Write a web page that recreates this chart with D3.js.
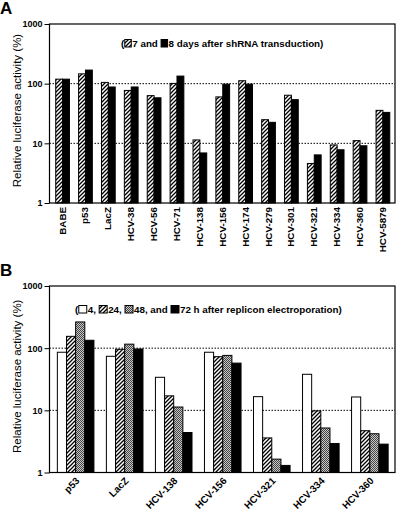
<!DOCTYPE html>
<html><head><meta charset="utf-8">
<script src="https://cdn.jsdelivr.net/npm/d3@7"></script>
<style>body{margin:0;background:#fff} text{font-family:'Liberation Sans',Arial,Helvetica,sans-serif}</style>
</head><body><svg id="c" width="400" height="516"></svg>
<script>
// ---- Data ----
const categoriesA = ["BABE","p53","LacZ","HCV-38","HCV-56","HCV-71","HCV-138","HCV-156","HCV-174","HCV-279","HCV-301","HCV-321","HCV-334","HCV-360","HCV-5879"];
const day7 = [119,146,105,77,63,101,11.4,60,112,24.9,64,4.6,9.4,11.1,35.7];
const day8 = [119,169,88,88,58,134,6.9,98,98,22.5,54,6.4,7.8,9.1,33];
const categoriesB = ["p53","LacZ","HCV-138","HCV-156","HCV-321","HCV-334","HCV-360"];
const h4  = [86,74,34,86,16.6,38,16.4];
const h24 = [155,96,17.1,73,3.6,9.8,4.7];
const h48 = [264,116,11.3,76.5,1.64,5.2,4.2];
const h72 = [134,97,4.4,57.5,1.3,2.93,2.86];
const yTicks = [1,10,100,1000];
const gridValues = [10,100];
const yTitle = "Relative luciferase activity (%)";
const legendA = [{t:"("},{box:"hatch"},{t:"7 and "},{box:"black"},{t:"8 days after shRNA transduction)"}];
const legendB = [{t:"("},{box:"white"},{t:"4, "},{box:"hatch"},{t:"24, "},{box:"grey"},{t:"48, and "},{box:"black"},{t:"72 h after replicon electroporation)"}];

const svg = d3.select("#c");
const defs = svg.append("defs");
// diagonal hatch
const ph = defs.append("pattern").attr("id","hatch").attr("patternUnits","userSpaceOnUse").attr("width",4).attr("height",4);
ph.append("rect").attr("width",4).attr("height",4).attr("fill","#fff");
ph.append("path").attr("d","M-1,1 l2,-2 M0,4 l4,-4 M3,5 l2,-2").attr("stroke","#000").attr("stroke-width",1.3);
// grey stipple
const pg = defs.append("pattern").attr("id","grey").attr("patternUnits","userSpaceOnUse").attr("width",2).attr("height",2);
pg.append("rect").attr("width",2).attr("height",2).attr("fill","#c8c8c8");
pg.append("rect").attr("width",1).attr("height",1).attr("fill","#444");
pg.append("rect").attr("x",1).attr("y",1).attr("width",1).attr("height",1).attr("fill","#444");

const fills = {hatch:"url(#hatch)", grey:"url(#grey)", black:"#000", white:"#fff"};
const L = 49.5, R = 395;

function panel(o){
  const g = svg.append("g");
  const y = d3.scaleLog().domain([1,1000]).range([o.bottom,o.top]);
  const x = d3.scaleBand().domain(o.cats).range([L,R]).paddingInner(o.pi).paddingOuter(o.po);
  const xs = d3.scaleBand().domain(d3.range(o.series.length)).range([0,x.bandwidth()]);
  // grid
  g.selectAll(".grid").data(gridValues).join("line")
    .attr("x1",L).attr("x2",R).attr("y1",d=>y(d)).attr("y2",d=>y(d))
    .attr("stroke","#000").attr("stroke-width",1).attr("stroke-dasharray","1.5,1.5");
  // bars
  o.series.forEach((s,i)=>{
    g.selectAll(".b"+i).data(s.values).join("rect")
      .attr("x",(d,j)=>x(o.cats[j])+xs(i)+0.5)
      .attr("width",xs.bandwidth())
      .attr("y",d=>y(d))
      .attr("height",d=>y(1)-y(d))
      .attr("fill",fills[s.fill]).attr("stroke","#000").attr("stroke-width",1);
  });
  // frame
  g.append("rect").attr("x",L).attr("y",o.top).attr("width",R-L).attr("height",o.bottom-o.top)
    .attr("fill","none").attr("stroke","#000").attr("stroke-width",1.2);
  // y axis
  const ya = d3.axisLeft(y).tickValues(yTicks).tickFormat(d3.format("d")).tickSize(5).tickPadding(2);
  const ag = g.append("g").attr("transform",`translate(${L},0)`).call(ya);
  ag.select(".domain").remove();
  ag.selectAll("text").attr("font-size",9).attr("font-weight","bold").attr("fill","#000");
  ag.selectAll("line").attr("stroke","#000");
  // y title
  g.append("text").attr("transform",`translate(21,${(o.top+o.bottom)/2 - 3}) rotate(-90)`)
    .attr("text-anchor","middle").attr("font-size",11.5).text(yTitle);
  // x labels
  g.selectAll(".xl").data(o.cats).join("text")
    .attr("transform",d=>{
      const cx = x(d)+x.bandwidth()/2;
      return o.rot===-90 ? `translate(${cx+3.5},${o.bottom+4}) rotate(-90)` : `translate(${cx+5},${o.bottom+9}) rotate(-45)`;
    })
    .attr("text-anchor","end").attr("font-size",9.8).attr("font-weight","bold").text(d=>d);
  // panel letter
  svg.append("text").attr("x",0).attr("y",o.letterY).attr("font-size",17).attr("font-weight","bold").text(o.letter);
  // legend
  let cx = o.lx;
  o.legend.forEach(it=>{
    if(it.box){
      g.append("rect").attr("x",cx+0.5).attr("y",o.ly-7.5).attr("width",o.boxW).attr("height",7.5)
        .attr("fill",fills[it.box]).attr("stroke","#000").attr("stroke-width",1);
      cx += o.boxW+1.5;
    } else {
      const t = g.append("text").attr("x",cx).attr("y",o.ly).attr("font-size",9.8).attr("font-weight","bold")
        .attr("xml:space","preserve").style("white-space","pre").text(it.t);
      cx += t.node().getComputedTextLength();
    }
  });
}

panel({top:24,bottom:203,cats:categoriesA,pi:0.4,po:0.25,rot:-90,
  series:[{values:day7,fill:"hatch"},{values:day8,fill:"black"}],
  letter:"A",letterY:14,legend:legendA,lx:121,ly:47,boxW:6.5});
panel({top:286,bottom:472.5,cats:categoriesB,pi:0.254,po:0.15,rot:-45,
  series:[{values:h4,fill:"white"},{values:h24,fill:"hatch"},{values:h48,fill:"grey"},{values:h72,fill:"black"}],
  letter:"B",letterY:276,legend:legendB,lx:75,ly:313,boxW:8});
</script></body></html>
